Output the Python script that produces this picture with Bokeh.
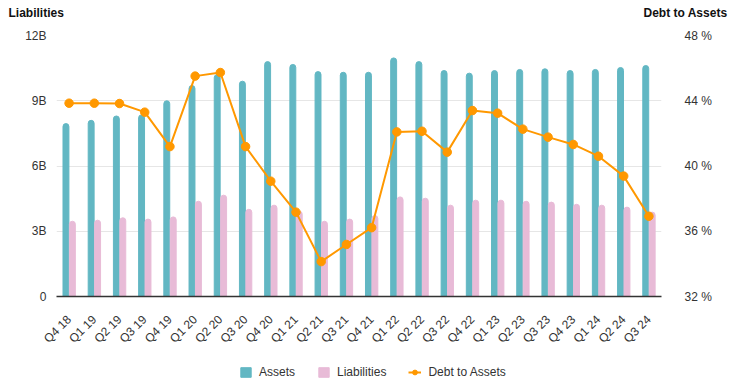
import math
from bokeh.plotting import figure
from bokeh.layouts import column
from bokeh.models import (ColumnDataSource, FactorRange, Range1d, LinearAxis, FixedTicker,
                          CustomJSTickFormatter, Legend, LegendItem, Label)
from bokeh.transform import dodge
from bokeh.embed import file_html
from bokeh.resources import INLINE

quarters = ["Q4 18", "Q1 19", "Q2 19", "Q3 19", "Q4 19", "Q1 20", "Q2 20", "Q3 20",
            "Q4 20", "Q1 21", "Q2 21", "Q3 21", "Q4 21", "Q1 22", "Q2 22", "Q3 22",
            "Q4 22", "Q1 23", "Q2 23", "Q3 23", "Q4 23", "Q1 24", "Q2 24", "Q3 24"]
assets = [7.95, 8.1, 8.3, 8.35, 9.0, 9.7, 10.2, 9.9, 10.8, 10.67, 10.34, 10.31,
          10.31, 10.97, 10.8, 10.39, 10.27, 10.39, 10.44, 10.47, 10.39, 10.44, 10.53, 10.62]
liabilities = [3.46, 3.51, 3.62, 3.56, 3.66, 4.38, 4.66, 4.01, 4.20, 3.92, 3.46, 3.56,
               3.72, 4.58, 4.52, 4.20, 4.43, 4.43, 4.38, 4.34, 4.24, 4.20, 4.11, 3.88]
debt_to_assets = [43.85, 43.85, 43.83, 43.30, 41.19, 45.51, 45.73, 41.19, 39.07, 37.17,
                  34.14, 35.19, 36.22, 42.09, 42.13, 40.85, 43.40, 43.24, 42.26, 41.77,
                  41.32, 40.60, 39.38, 36.92]
left_ticks = [0, 3, 6, 9, 12]
right_ticks = [32, 36, 40, 44, 48]
left_title = "Liabilities"
right_title = "Debt to Assets"
series_names = ["Assets", "Liabilities", "Debt to Assets"]

FONT = "Liberation Sans"
TEAL = "#62b7c3"
PINK = "#e8bbd7"
ORANGE = "#ff9800"
W = 743
TOP_H = 24
LEG_H = 30
MAIN_H = 387 - TOP_H - LEG_H


def strip(h):
    f = figure(width=W, height=h, x_range=Range1d(0, W), y_range=Range1d(0, h),
               output_backend="svg", toolbar_location=None, min_border=0,
               x_axis_location=None, y_axis_location=None, frame_align=False)
    f.outline_line_color = None
    f.grid.visible = False
    return f


# --- title strip ---
t = strip(TOP_H)
t.add_layout(Label(x=8, y=TOP_H - 12, text=left_title, text_font=FONT, text_font_size="12px",
                   text_font_style="bold", text_baseline="middle", text_color="#111111"))
t.add_layout(Label(x=W - 16, y=TOP_H - 12, text=right_title, text_font=FONT,
                   text_font_size="12px", text_font_style="bold", text_baseline="middle",
                   text_align="right", text_color="#111111"))

# --- main chart ---
src = ColumnDataSource(dict(q=quarters, assets=assets, liab=liabilities, dta=debt_to_assets))

p = figure(x_range=FactorRange(*quarters, range_padding=0), y_range=Range1d(0, 12),
           width=W, height=MAIN_H, output_backend="svg", toolbar_location=None,
           min_border_left=56, min_border_right=82, min_border_top=35 - TOP_H,
           min_border_bottom=MAIN_H - (35 - TOP_H) - 261, frame_align=False)
p.outline_line_color = None
p.background_fill_color = "white"
p.extra_y_ranges = {"pct": Range1d(32, 48)}

p.vbar(x=dodge("q", -0.125, range=p.x_range), top="assets", width=0.235, source=src,
       color=TEAL, border_radius=(3, 3, 0, 0))
p.vbar(x=dodge("q", 0.13, range=p.x_range), top="liab", width=0.235, source=src,
       color=PINK, border_radius=(3, 3, 0, 0))
p.line(x="q", y="dta", source=src, color=ORANGE, line_width=2, y_range_name="pct")
p.scatter(x="q", y="dta", source=src, color=ORANGE, size=8.5, y_range_name="pct")

p.yaxis.ticker = FixedTicker(ticks=left_ticks)
p.yaxis.formatter = CustomJSTickFormatter(code="return tick == 0 ? '0' : tick + 'B';")
ra_axis = LinearAxis(y_range_name="pct", ticker=FixedTicker(ticks=right_ticks),
                     formatter=CustomJSTickFormatter(code="return tick + ' %';"))
p.add_layout(ra_axis, "right")
for ax in (p.yaxis[0], ra_axis):
    ax.axis_line_color = None
    ax.major_tick_line_color = None
    ax.minor_tick_line_color = None
    ax.major_tick_out = 0
    ax.major_tick_in = 0
    ax.major_label_text_font = FONT
    ax.major_label_text_font_size = "12px"
    ax.major_label_text_color = "#333333"
p.yaxis[0].major_label_standoff = 10
ra_axis.major_label_standoff = 23

xa = p.xaxis[0]
xa.axis_line_color = "#333333"
xa.axis_line_width = 1.5
xa.major_tick_line_color = None
xa.major_tick_out = 0
xa.major_tick_in = 0
xa.major_label_orientation = math.pi / 4
xa.major_label_text_font = FONT
xa.major_label_text_font_size = "12px"
xa.major_label_text_color = "#333333"
xa.major_label_standoff = 21

p.xgrid.grid_line_color = None
p.ygrid.grid_line_color = "#e6e6e6"
p.ygrid.grid_line_width = 1

# --- legend strip: swatch renderers hold one point placed outside the visible range ---
lg = strip(LEG_H)
off = ColumnDataSource(dict(x=[-100], y=[-100]))
la = lg.vbar(x="x", top="y", width=1, source=off, color=TEAL)
ll = lg.vbar(x="x", top="y", width=1, source=off, color=PINK)
lline = lg.line(x="x", y="y", source=off, color=ORANGE, line_width=2)
lpts = lg.scatter(x="x", y="y", source=off, color=ORANGE, size=8.5)
legend = Legend(items=[LegendItem(label=series_names[0], renderers=[la]),
                       LegendItem(label=series_names[1], renderers=[ll]),
                       LegendItem(label=series_names[2], renderers=[lline, lpts])],
                orientation="horizontal", location=(239, 8), padding=0, margin=0,
                spacing=22, glyph_width=13, glyph_height=12, label_standoff=7,
                background_fill_alpha=0, border_line_color=None,
                label_text_font=FONT, label_text_font_size="12px",
                label_text_color="#333333")
lg.add_layout(legend, "center")

layout = column(t, p, lg, spacing=0)
open("out.html", "w").write(file_html(layout, INLINE))
